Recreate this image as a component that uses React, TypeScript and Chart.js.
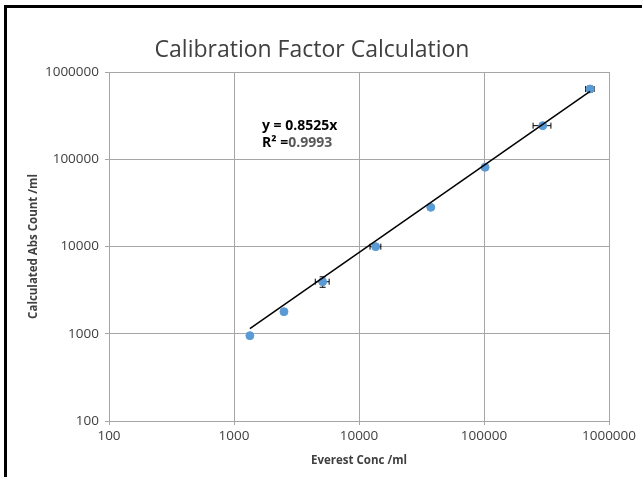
import React, { useEffect, useRef } from "react";
import { Chart, registerables } from "chart.js";

Chart.register(...registerables);

// ---- data ----
const chartTitle = "Calibration Factor Calculation";
const xAxisTitle = "Everest Conc /ml";
const yAxisTitle = "Calculated Abs Count /ml";

const xValues = [1340, 2510, 5120, 13600, 37500, 102000, 295000, 705000];
const yValues = [950, 1790, 3950, 9960, 28100, 80900, 242600, 638000];
const xErrors = [40, 110, 650, 1350, 800, 2000, 48000, 55000];
const yErrors = [30, 90, 540, 500, 700, 2000, 10000, 50000];

const tickValues = [100, 1000, 10000, 100000, 1000000];
const tickLabels = ["100", "1000", "10000", "100000", "1000000"];

const trendSlope = 0.8525;
const equationText = "y = 0.8525x";
const r2Label = "R\u00B2 =";
const r2Value = "0.9993";

const FONT = "'Open Sans', 'Noto Sans', sans-serif";
const GRID = "#a6a6a6";
const TEXT = "#404040";
const MARKER = "#5b9bd5";

const errorBarPlugin = {
  id: "errorBars",
  beforeDatasetsDraw(chart: any) {
    const ctx = chart.ctx;
    const xs = chart.scales.x;
    const ys = chart.scales.y;
    const cap = 3;
    ctx.save();
    ctx.strokeStyle = "#000000";
    ctx.lineWidth = 1;
    xValues.forEach((xv, i) => {
      const yv = yValues[i];
      const px = xs.getPixelForValue(xv);
      const py = ys.getPixelForValue(yv);
      const x1 = xs.getPixelForValue(xv - xErrors[i]);
      const x2 = xs.getPixelForValue(xv + xErrors[i]);
      const y1 = ys.getPixelForValue(yv - yErrors[i]);
      const y2 = ys.getPixelForValue(yv + yErrors[i]);
      ctx.beginPath();
      ctx.moveTo(x1, py);
      ctx.lineTo(x2, py);
      ctx.moveTo(x1, py - cap);
      ctx.lineTo(x1, py + cap);
      ctx.moveTo(x2, py - cap);
      ctx.lineTo(x2, py + cap);
      ctx.moveTo(px, y1);
      ctx.lineTo(px, y2);
      ctx.moveTo(px - cap, y1);
      ctx.lineTo(px + cap, y1);
      ctx.moveTo(px - cap, y2);
      ctx.lineTo(px + cap, y2);
      ctx.stroke();
    });
    ctx.restore();
  },
};

const decorPlugin = {
  id: "decor",
  afterDraw(chart: any) {
    const ctx = chart.ctx;
    const area = chart.chartArea;
    ctx.save();
    // outer chart border (partially visible)
    ctx.fillStyle = "#000000";
    ctx.fillRect(4, 5, 660, 3);
    ctx.fillRect(4, 5, 3, 500);

    // title
    ctx.fillStyle = TEXT;
    ctx.textAlign = "center";
    ctx.textBaseline = "alphabetic";
    ctx.font = `23px ${FONT}`;
    ctx.fillText(chartTitle, 312, 57);

    // x axis title
    ctx.font = `bold 11.5px ${FONT}`;
    ctx.fillText(xAxisTitle, (area.left + area.right) / 2, 464);

    // y axis title
    ctx.save();
    ctx.translate(37, (area.top + area.bottom) / 2);
    ctx.rotate(-Math.PI / 2);
    ctx.fillText(yAxisTitle, 0, 0);
    ctx.restore();

    // trendline label
    ctx.textAlign = "left";
    ctx.font = `bold 14px ${FONT}`;
    ctx.fillStyle = "#000000";
    ctx.fillText(equationText, 262, 130);
    ctx.fillText(r2Label, 262, 147);
    const w = ctx.measureText(r2Label).width;
    ctx.fillStyle = "#595959";
    ctx.fillText(r2Value, 262 + w, 147);
    ctx.restore();
  },
};

export default function App() {
  const canvasRef = useRef<HTMLCanvasElement | null>(null);

  useEffect(() => {
    if (!canvasRef.current) return;
    const xMin = Math.min(...xValues);
    const xMax = Math.max(...xValues);
    const trendData = [
      { x: xMin, y: trendSlope * xMin },
      { x: xMax, y: trendSlope * xMax },
    ];
    const points = xValues.map((x, i) => ({ x, y: yValues[i] }));

    const axisCommon = (pos: "x" | "y") => ({
      type: "logarithmic" as const,
      min: 100,
      max: 1000000,
      afterBuildTicks: (scale: any) => {
        scale.ticks = tickValues.map((v) => ({ value: v }));
      },
      afterFit: (scale: any) => {
        if (pos === "y") scale.width = 109;
        else scale.height = 56;
      },
      grid: {
        color: GRID,
        lineWidth: 1,
        tickLength: 4,
        drawTicks: true,
      },
      border: { color: GRID, width: 1 },
      ticks: {
        color: TEXT,
        font: { family: FONT, size: 13.5 },
        padding: pos === "y" ? 6 : 3,
        autoSkip: false,
        maxRotation: 0,
        callback: (_v: any, i: number) => tickLabels[i],
      },
      title: { display: false },
    });

    const chart = new Chart(canvasRef.current, {
      type: "scatter",
      data: {
        datasets: [
          {
            type: "line",
            label: "Linear",
            data: trendData,
            borderColor: "#000000",
            borderWidth: 1.5,
            pointRadius: 0,
            fill: false,
            order: 0,
          } as any,
          {
            label: "Calibration",
            data: points,
            backgroundColor: MARKER,
            borderColor: MARKER,
            pointRadius: 4,
            pointStyle: "circle",
            order: 1,
          },
        ],
      },
      options: {
        responsive: false,
        animation: false,
        devicePixelRatio: 1,
        layout: { padding: { top: 72, right: 33, left: 0, bottom: 0 } },
        plugins: {
          legend: { display: false },
          title: { display: false },
          tooltip: { enabled: false },
        },
        scales: {
          x: { ...axisCommon("x"), position: "bottom" },
          y: { ...axisCommon("y"), position: "left" },
        } as any,
      },
      plugins: [errorBarPlugin, decorPlugin],
    });
    return () => chart.destroy();
  }, []);

  return (
    <div
      style={{
        position: "absolute",
        left: 0,
        top: 0,
        width: 642,
        height: 477,
        background: "#ffffff",
        overflow: "hidden",
      }}
    >
      <canvas
        ref={canvasRef}
        width={642}
        height={477}
        style={{ width: 642, height: 477, display: "block" }}
      />
    </div>
  );
}
